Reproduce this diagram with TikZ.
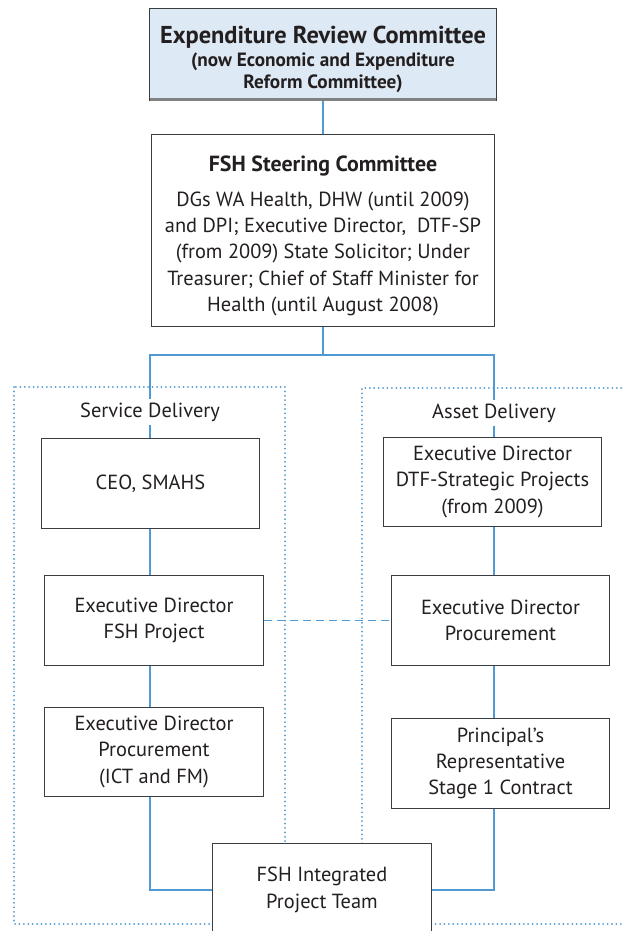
\documentclass[tikz,border=0pt]{standalone}
\usepackage{fontspec}
\setmainfont{PT Sans}
\definecolor{linkblue}{HTML}{4F9AD3}
\definecolor{boxgrey}{HTML}{3A3D40}
\definecolor{headfill}{HTML}{DDE9F4}
\definecolor{inktext}{HTML}{231F20}
\newcommand{\bodyfont}{\fontsize{20.5}{26.5}\selectfont}

\begin{document}
\begin{tikzpicture}[x=1bp,y=-1bp,
  box/.style={draw=boxgrey,line width=1.2bp,fill=white,align=center,
    text=inktext,font=\bodyfont,inner sep=0pt},
  head/.style={box,fill=headfill,font=\fontsize{19.3}{22}\selectfont\bfseries},
  grouplabel/.style={fill=white,text=inktext,font=\bodyfont,inner sep=3bp},
  link/.style={draw=linkblue,line width=1.5bp},
  liaison/.style={link,dash pattern=on 8bp off 5bp},
  group/.style={draw=linkblue,line width=2bp,line cap=round,
    dash pattern=on 0.01bp off 4.4bp}]

\useasboundingbox (0,0) rectangle (624,931);

% delivery groups
\draw [group] (14,387) rectangle (285,924);
\draw [group] (630,388) -- (362,388) -- (362,924) -- (630,924);

\node [head,minimum width=348,minimum height=93] (erc) at (323,54.5)
  {\rule{0pt}{27bp}{\fontsize{24.5}{26}\selectfont Expenditure Review Committee}\\[1bp]
   (now Economic and Expenditure\\Reform Committee)};
\fill [boxgrey!65] ([xshift=0.6bp]erc.south west) rectangle ([xshift=-0.6bp,yshift=3.5bp]erc.south east);

\node [box,minimum width=344,minimum height=193] (steer) at (323,230.5)
  {\rule{0pt}{27bp}{\fontsize{22}{28}\selectfont\bfseries FSH Steering Committee}\\[8bp]
   DGs WA Health, DHW (until 2009)\\
   and DPI; Executive Director,\ \ DTF-SP\\
   (from 2009) State Solicitor; Under\\
   Treasurer; Chief of Staff Minister for\\
   Health (until August 2008)};

\coordinate (split) at (323,355);

\node [grouplabel] (svc) at (150,412) {Service Delivery};
\node [grouplabel] (asset) at (494,413) {Asset Delivery};

\node [box,minimum width=219,minimum height=91] (ceo) at (150.5,483.5) {CEO, SMAHS};
\node [box,minimum width=220,minimum height=91] (edfsh) at (154,620.5)
  {Executive Director\\FSH Project};
\node [box,minimum width=220,minimum height=90] (edict) at (154,752)
  {Executive Director\\Procurement\\(ICT and FM)};

\node [box,minimum width=219,minimum height=90] (eddtf) at (492.5,482)
  {Executive Director\\DTF-Strategic Projects\\(from 2009)};
\node [box,minimum width=219,minimum height=91] (edproc) at (500.5,620.5)
  {Executive Director\\Procurement};
\node [box,minimum width=219,minimum height=91] (rep) at (500.5,763.5)
  {Principal’s\\Representative\\Stage 1 Contract};

\node [box,minimum width=220,minimum height=94] (team) at (322,890)
  {FSH Integrated\\Project Team};

\path
(erc) edge [link] (steer)
(steer) edge [link] (split)
(svc.south) edge [link] (svc.south |- ceo.north)
(asset.south) edge [link] (asset.south |- eddtf.north)
(svc.south |- ceo.south) edge [link] (svc.south |- edfsh.north)
(svc.south |- edfsh.south) edge [link] (svc.south |- edict.north)
(asset.south |- eddtf.south) edge [link] (asset.south |- edproc.north)
(asset.south |- edproc.south) edge [link] (asset.south |- rep.north)
(edfsh) edge [liaison] (edproc)
;

\draw [link] (split) -| (svc.north);
\draw [link] (split) -| (asset.north);
\draw [link] (svc.south |- edict.south) |- (team.west);
\draw [link] (asset.south |- rep.south) |- (team.east);

\end{tikzpicture}
\end{document}
